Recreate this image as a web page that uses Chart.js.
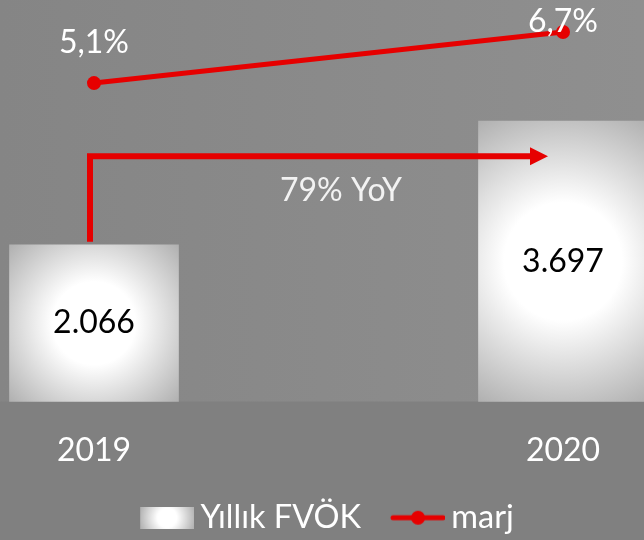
<!DOCTYPE html>
<html>
<head>
<meta charset="utf-8">
<script src="https://cdn.jsdelivr.net/npm/chart.js@4"></script>
<style>
html, body { margin: 0; padding: 0; background: #808080; overflow: hidden; }
</style>
</head>
<body>
<canvas id="chart" width="644" height="540"></canvas>
<script>
// data
const years = ['2019', '2020'];
const fvok = [2066, 3697];
const fvokLabels = ['2.066', '3.697'];
const marj = [5.1, 6.7];
const marjLabels = ['5,1%', '6,7%'];
const yoyText = '79% YoY';
const seriesNames = ['Yıllık FVÖK', 'marj'];

const RED = '#e60000';
const FONT = 'Lato, "Open Sans", sans-serif';

// ================= HELPERS =================
function barGradient(ctx, cx, cy, r) {
    const g = ctx.createRadialGradient(cx, cy, 0, cx, cy, r);
    g.addColorStop(0, '#ffffff');
    g.addColorStop(0.36, '#ffffff');
    g.addColorStop(1, '#b0b0b0');
    return g;
}

function legendBarIcon() {
    const c = document.createElement('canvas');
    c.width = 61; c.height = 22;
    const ctx = c.getContext('2d');
    const g = ctx.createRadialGradient(34, 11, 0, 34, 11, 28);
    g.addColorStop(0, '#ffffff');
    g.addColorStop(0.35, '#ffffff');
    g.addColorStop(1, '#b3b3b3');
    ctx.fillStyle = g;
    ctx.fillRect(7, 0, 54, 22);
    return c;
}

function legendLineIcon() {
    const c = document.createElement('canvas');
    c.width = 61; c.height = 16;
    const ctx = c.getContext('2d');
    ctx.strokeStyle = RED;
    ctx.lineWidth = 5;
    ctx.lineCap = 'round';
    ctx.beginPath();
    ctx.moveTo(9, 8);
    ctx.lineTo(59, 8);
    ctx.stroke();
    ctx.fillStyle = RED;
    ctx.beginPath();
    ctx.arc(34, 8, 7, 0, Math.PI * 2);
    ctx.fill();
    return c;
}

// ================= PLUGINS =================
const bgPlugin = {
    id: 'bg',
    beforeDraw(chart) {
        const ctx = chart.ctx;
        const area = chart.chartArea;
        ctx.save();
        ctx.fillStyle = '#808080';
        ctx.fillRect(0, 0, chart.width, chart.height);
        const g = ctx.createLinearGradient(0, 0, chart.width, 0);
        g.addColorStop(0, '#858585');
        g.addColorStop(1, '#8f8f8f');
        ctx.fillStyle = g;
        ctx.fillRect(0, 0, chart.width, area.bottom);
        ctx.restore();
    }
};

const labelPlugin = {
    id: 'labels',
    afterDatasetsDraw(chart) {
        const ctx = chart.ctx;
        const bars = chart.getDatasetMeta(0).data;
        const pts = chart.getDatasetMeta(1).data;
        const x = chart.scales.x, y = chart.scales.y;
        ctx.save();

        // YoY arrow
        const x0 = x.getPixelForValue(0) - 4;
        const tip = x.getPixelForValue(1) - 15;
        const yBottom = y.getPixelForValue(fvok[0]) - 3;
        const yTop = y.getPixelForValue(3235);
        ctx.strokeStyle = RED;
        ctx.lineWidth = 6;
        ctx.lineJoin = 'miter';
        ctx.beginPath();
        ctx.moveTo(x0, yBottom);
        ctx.lineTo(x0, yTop);
        ctx.lineTo(tip - 16, yTop);
        ctx.stroke();
        ctx.fillStyle = RED;
        ctx.beginPath();
        ctx.moveTo(tip - 18, yTop - 9);
        ctx.lineTo(tip, yTop);
        ctx.lineTo(tip - 18, yTop + 9);
        ctx.closePath();
        ctx.fill();

        ctx.textAlign = 'center';
        ctx.textBaseline = 'middle';
        ctx.font = '32px ' + FONT;
        ctx.fillStyle = '#f2f2f2';
        ctx.fillText(yoyText, x0 + 251, yTop + 35);

        // bar values
        ctx.fillStyle = '#000000';
        bars.forEach((b, i) => {
            ctx.fillText(fvokLabels[i], b.x, (b.y + b.base) / 2);
        });

        // line values
        ctx.fillStyle = '#ffffff';
        pts.forEach((p, i) => {
            const ly = Math.max(p.y - 40, 22);
            ctx.fillText(marjLabels[i], p.x, ly);
        });
        ctx.restore();
    }
};

// ================= CHART =================
const chart = new Chart(document.getElementById('chart'), {
    type: 'bar',
    data: {
        labels: years,
        datasets: [{
            label: seriesNames[0],
            data: fvok,
            yAxisID: 'y',
            barThickness: 169,
            clip: false,
            order: 2,
            backgroundColor: (c) => {
                const ch = c.chart;
                if (c.type !== 'data' || !ch.scales.x || !ch.scales.y) return '#ffffff';
                const cx = ch.scales.x.getPixelForValue(c.dataIndex);
                const top = ch.scales.y.getPixelForValue(fvok[c.dataIndex]);
                const base = ch.scales.y.getPixelForValue(0);
                const h = base - top;
                const r = Math.sqrt(84.5 * 84.5 + (h / 2) * (h / 2));
                return barGradient(ch.ctx, cx, (top + base) / 2, r);
            }
        }, {
            type: 'line',
            label: seriesNames[1],
            data: marj,
            yAxisID: 'y2',
            order: 1,
            borderColor: RED,
            backgroundColor: RED,
            borderWidth: 5,
            pointRadius: 7,
            pointBackgroundColor: RED,
            pointBorderWidth: 0,
            clip: false
        }]
    },
    options: {
        responsive: false,
        animation: false,
        layout: { padding: { left: 94, right: 81, top: 0, bottom: -4 } },
        scales: {
            x: {
                offset: false,
                grid: { display: false, drawTicks: false },
                border: { display: false },
                ticks: { color: '#ffffff', font: { family: FONT, size: 32 }, padding: 30 },
                afterFit: (s) => { s.height = 67; }
            },
            y: { display: false, min: 0, max: 5202 },
            y2: { display: false, min: -4.876, max: 7.484 }
        },
        plugins: {
            tooltip: { enabled: false },
            legend: {
                position: 'bottom',
                labels: {
                    color: '#ffffff',
                    font: { family: FONT, size: 32.5 },
                    padding: 33,
                    usePointStyle: true,
                    pointStyleWidth: 41,
                    generateLabels: () => [
                        { text: seriesNames[0], pointStyle: legendBarIcon(), fillStyle: 'transparent', strokeStyle: 'transparent', lineWidth: 0, fontColor: '#ffffff', datasetIndex: 0, hidden: false },
                        { text: seriesNames[1], pointStyle: legendLineIcon(), fillStyle: 'transparent', strokeStyle: 'transparent', lineWidth: 0, fontColor: '#ffffff', datasetIndex: 1, hidden: false }
                    ]
                }
            }
        }
    },
    plugins: [bgPlugin, labelPlugin]
});
</script>
</body>
</html>
